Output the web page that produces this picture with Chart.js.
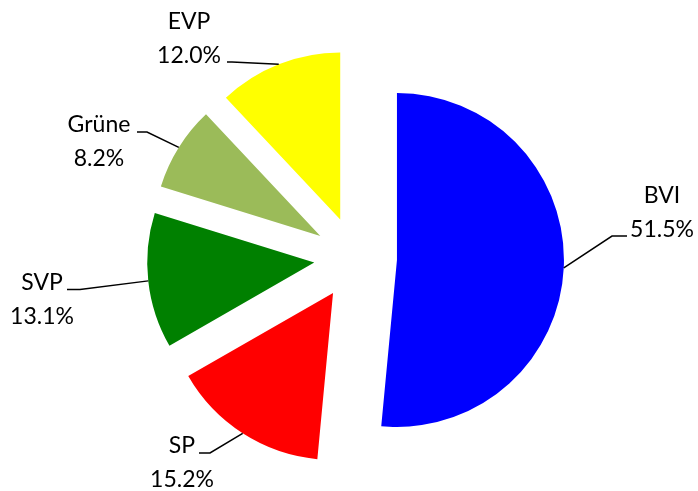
<!DOCTYPE html>
<html>
<head>
<meta charset="utf-8">
<script src="https://cdn.jsdelivr.net/npm/chart.js@4.4.0/dist/chart.umd.min.js"></script>
<style>
    body { margin: 0; background: #fff; }
</style>
</head>
<body>
<canvas id="partyChart" width="698" height="491"></canvas>
<script>
// data
const parties = ['BVI', 'SP', 'SVP', 'Grüne', 'EVP'];
const shares = [51.5, 15.2, 13.1, 8.2, 12.0];
const partyColors = ['#0000FF', '#FF0000', '#008000', '#9BBB59', '#FFFF00'];

// label placement (text centre x, first baseline y, leader start, leader elbow)
const labelLayout = [
    { x: 662, y: 203, sx: 627, sy: 236, ex: 612, ey: 236 },
    { x: 182, y: 453, sx: 199, sy: 453, ex: 210, ey: 453 },
    { x: 42, y: 290, sx: 67, sy: 289.5, ex: 80, ey: 289.5 },
    { x: 99, y: 132, sx: 137, sy: 132, ex: 147, ey: 132 },
    { x: 189, y: 29, sx: 227, sy: 62, ex: 232, ey: 62 }
];

const EXPLODE = 41.5;   // how far every slice is pulled out
const LINE_GAP = 34;

document.addEventListener("DOMContentLoaded", function() {
    const canvas = document.getElementById('partyChart');

    // draw slices ourselves so they are shifted without chart.js' offset resizing
    const explodePlugin = {
        id: 'explode',
        beforeDatasetDraw(chart, args) {
            const ctx = chart.ctx;
            args.meta.data.forEach((arc) => {
                const mid = (arc.startAngle + arc.endAngle) / 2;
                ctx.save();
                ctx.translate(Math.cos(mid) * EXPLODE, Math.sin(mid) * EXPLODE);
                arc.draw(ctx);
                ctx.restore();
            });
            return false;
        }
    };

    const labelPlugin = {
        id: 'outsideLabels',
        afterDatasetsDraw(chart) {
            const ctx = chart.ctx;
            const meta = chart.getDatasetMeta(0);
            ctx.save();
            meta.data.forEach((arc, i) => {
                const pos = labelLayout[i];
                const mid = (arc.startAngle + arc.endAngle) / 2;
                const px = arc.x + Math.cos(mid) * (EXPLODE + arc.outerRadius);
                const py = arc.y + Math.sin(mid) * (EXPLODE + arc.outerRadius);

                ctx.strokeStyle = '#000';
                ctx.lineWidth = 1.5;
                ctx.beginPath();
                ctx.moveTo(pos.sx, pos.sy);
                ctx.lineTo(pos.ex, pos.ey);
                ctx.lineTo(px, py);
                ctx.stroke();

                ctx.fillStyle = '#000';
                ctx.font = '23px Lato';
                ctx.textAlign = 'center';
                ctx.textBaseline = 'alphabetic';
                ctx.fillText(parties[i], pos.x, pos.y);
                ctx.fillText(shares[i].toFixed(1) + '%', pos.x, pos.y + LINE_GAP);
            });
            ctx.restore();
        }
    };

    new Chart(canvas, {
        type: 'pie',
        data: {
            labels: parties,
            datasets: [{
                data: shares,
                backgroundColor: partyColors,
                borderWidth: 0,
                radius: 167
            }]
        },
        options: {
            responsive: false,
            animation: false,
            layout: {
                padding: { left: 13, right: 0, top: 25, bottom: 0 }
            },
            plugins: {
                legend: { display: false },
                tooltip: { enabled: false }
            }
        },
        plugins: [explodePlugin, labelPlugin]
    });
});
</script>
</body>
</html>
